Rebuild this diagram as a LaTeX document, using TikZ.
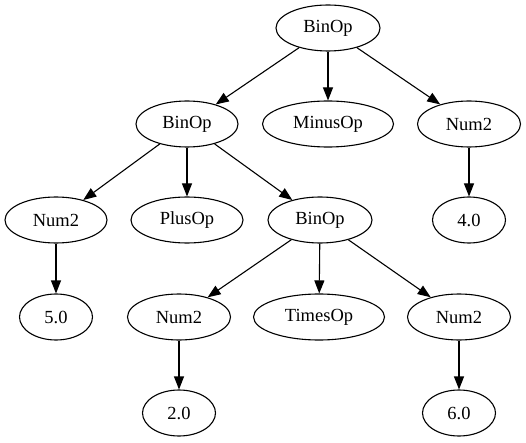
\documentclass[tikz,border=0pt]{standalone}
\usepackage{fontspec}
\setmainfont{Liberation Serif}
\usetikzlibrary{shapes.geometric,arrows.meta}
\begin{document}
\begin{tikzpicture}[x=1pt,y=-1pt,
  nd/.style={ellipse,draw,line width=1.1pt,inner sep=0pt,minimum height=46pt,font=\fontsize{18.5}{21}\selectfont},
  edge/.style={line width=1.1pt,-{Triangle[length=13pt,width=10pt]}}]
\useasboundingbox (0,0) rectangle (526,443);
\node[nd,minimum width=104pt] (r) at (328,28) {BinOp};
\node[nd,minimum width=102pt] (b1) at (187,124) {BinOp};
\node[nd,minimum width=131pt] (minus) at (328,124) {MinusOp};
\node[nd,minimum width=103pt] (n4) at (469,124) {Num2};
\node[nd,minimum width=102pt] (n5) at (56,220) {Num2};
\node[nd,minimum width=112pt] (plus) at (187,220) {PlusOp};
\node[nd,minimum width=104pt] (b2) at (320,220) {BinOp};
\node[nd,minimum width=73pt] (v4) at (469,220) {4.0};
\node[nd,minimum width=73pt] (v5) at (56,317) {5.0};
\node[nd,minimum width=103pt] (n2) at (179,317) {Num2};
\node[nd,minimum width=131pt] (times) at (319,317) {TimesOp};
\node[nd,minimum width=103pt] (n6) at (459,317) {Num2};
\node[nd,minimum width=73pt] (v2) at (179,413) {2.0};
\node[nd,minimum width=73pt] (v6) at (459,413) {6.0};
\draw[edge] (r) -- (b1);
\draw[edge] (r) -- (minus);
\draw[edge] (r) -- (n4);
\draw[edge] (n4) -- (v4);
\draw[edge] (b1) -- (n5);
\draw[edge] (b1) -- (plus);
\draw[edge] (b1) -- (b2);
\draw[edge] (n5) -- (v5);
\draw[edge] (b2) -- (n2);
\draw[edge] (b2) -- (times);
\draw[edge] (b2) -- (n6);
\draw[edge] (n2) -- (v2);
\draw[edge] (n6) -- (v6);
\end{tikzpicture}
\end{document}
